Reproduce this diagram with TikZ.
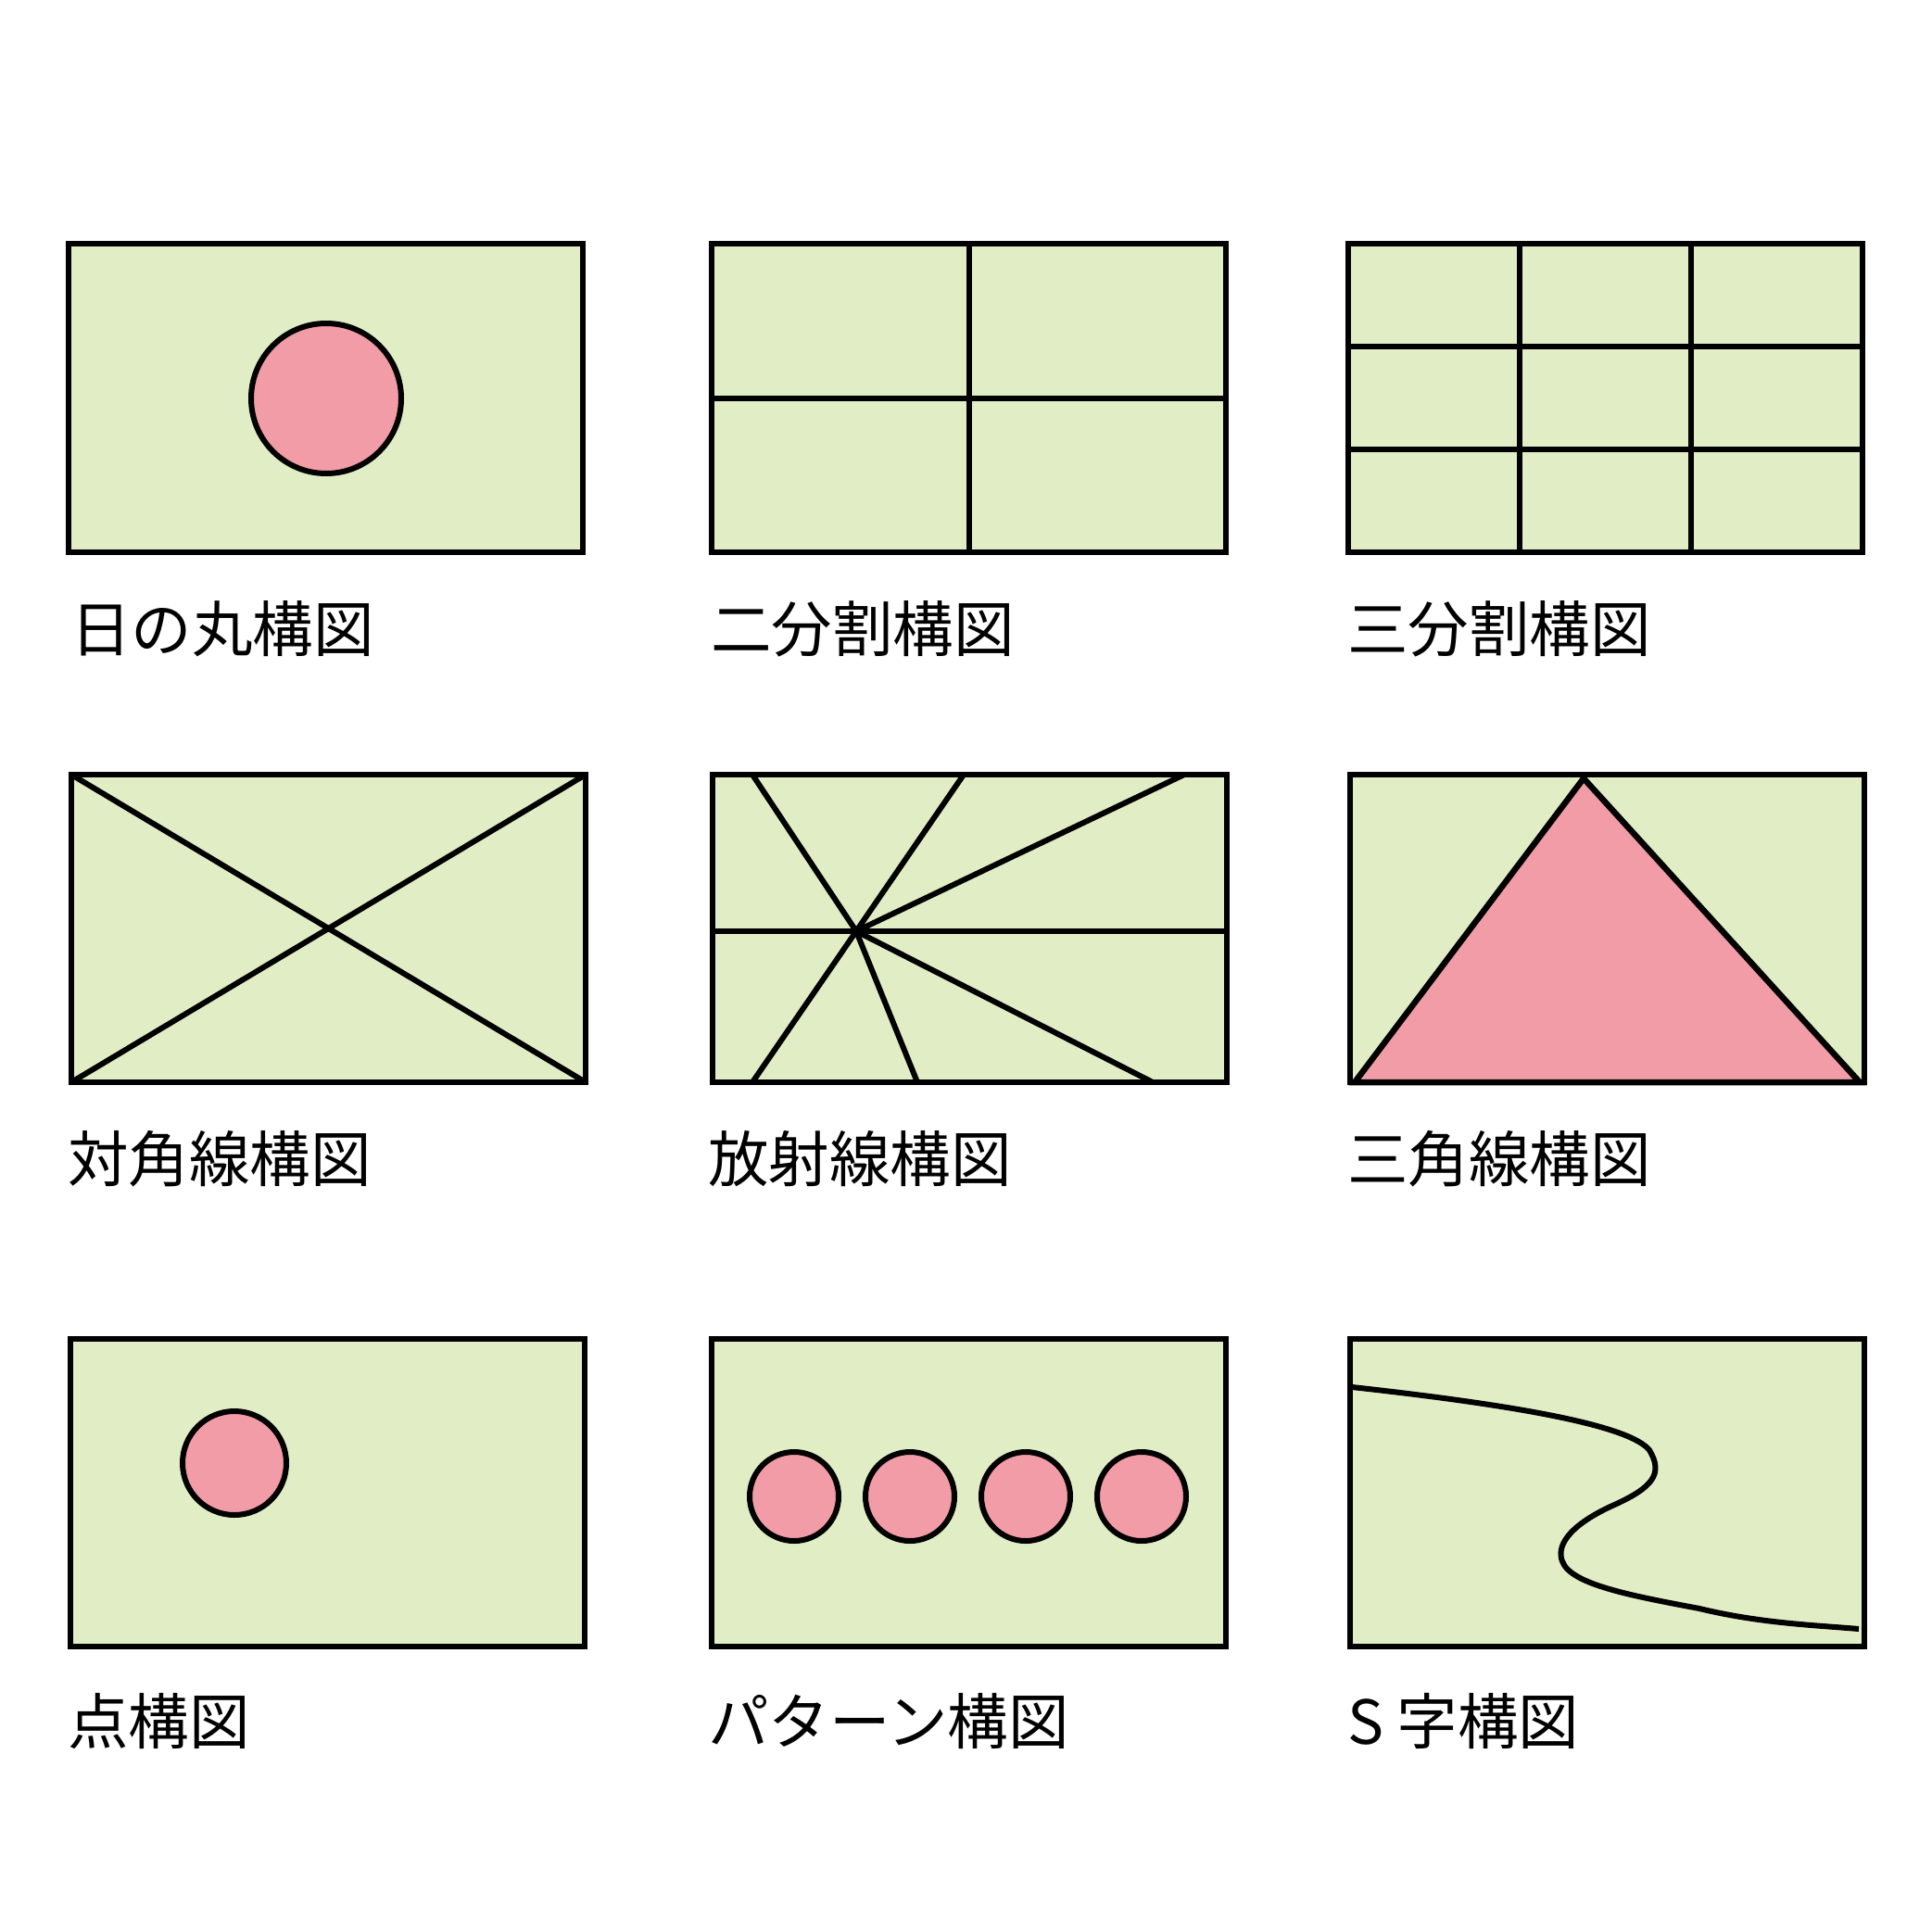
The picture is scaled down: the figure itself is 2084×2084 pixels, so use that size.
\documentclass[tikz,border=0pt]{standalone}
\usepackage{fontspec}
\setmainfont{Noto Sans CJK JP}
\definecolor{bg}{RGB}{225,238,197}
\definecolor{pk}{RGB}{241,156,166}
\begin{document}
\begin{tikzpicture}[x=1pt,y=-1pt,
  frame/.style={fill=bg,draw=black,line width=6.5pt},
  ln/.style={draw=black,line width=6pt},
  dot/.style={fill=pk,draw=black,line width=6pt},
  lab/.style={anchor=base west,inner sep=0pt,font=\fontsize{65.5}{70}\selectfont}]
\useasboundingbox[fill=white] (0,0) rectangle (2084,2084);

% Panel 1
\draw[frame] (74,263) rectangle (629,596);
\draw[dot] (352,430) circle (81pt);
\node[lab] (l1) at (76,703) {日の丸構図};

% Panel 2
\draw[frame] (768,263) rectangle (1323,596);
\draw[ln] (1046,263) -- (1046,596);
\draw[ln] (768,430) -- (1323,430);
\node[lab] (l2) at (767,703) {二分割構図};

% Panel 3
\draw[frame] (1455,263) rectangle (2010,596);
\draw[ln] (1640,263) -- (1640,596);
\draw[ln] (1825,263) -- (1825,596);
\draw[ln] (1455,374) -- (2010,374);
\draw[ln] (1455,485) -- (2010,485);
\node[lab] (l3) at (1454,703) {三分割構図};

% Panel 4
\draw[frame] (77,836) rectangle (632,1168);
\draw[ln] (77,836) -- (632,1168);
\draw[ln] (632,836) -- (77,1168);
\node[lab] (l4) at (73,1275) {対角線構図};

% Panel 5
\draw[frame] (769,836) rectangle (1324,1168);
\coordinate (c5) at (924,1005);
\draw[ln] (769,1005) -- (1324,1005);
\draw[ln] (c5) -- (812,836);
\draw[ln] (c5) -- (1040,836);
\draw[ln] (c5) -- (1278,836);
\draw[ln] (c5) -- (812,1168);
\draw[ln] (c5) -- (990,1168);
\draw[ln] (c5) -- (1244,1168);
\node[lab] (l5) at (764,1275) {放射線構図};

% Panel 6
\draw[frame] (1457,836) rectangle (2012,1168);
\draw[dot,line width=6.5pt] (1462,1168) -- (1709,840) -- (2007,1168) -- cycle;
\node[lab] (l6) at (1454,1275) {三角線構図};

% Panel 7
\draw[frame] (76,1445) rectangle (631,1777);
\draw[dot] (253,1579) circle (56pt);
\node[lab] (l7) at (73,1882) {点構図};

% Panel 8
\draw[frame] (768,1445) rectangle (1323,1777);
\foreach \cx in {857,982,1107,1232}{
  \draw[dot] (\cx,1615) circle (48pt);
}
\node[lab] (l8) at (764,1882) {パターン構図};

% Panel 9
\draw[frame] (1457,1445) rectangle (2012,1777);
\draw[ln] (1459,1497) .. controls (1650,1518) and (1760,1540) .. (1780,1565)
  .. controls (1795,1590) and (1785,1605) .. (1740,1625)
  .. controls (1690,1648) and (1680,1670) .. (1686,1685)
  .. controls (1695,1710) and (1760,1722) .. (1834,1736)
  .. controls (1900,1752) and (1960,1754) .. (2006,1758);
\node[lab] (l9) at (1454,1882) {S 字構図};
\end{tikzpicture}
\end{document}
